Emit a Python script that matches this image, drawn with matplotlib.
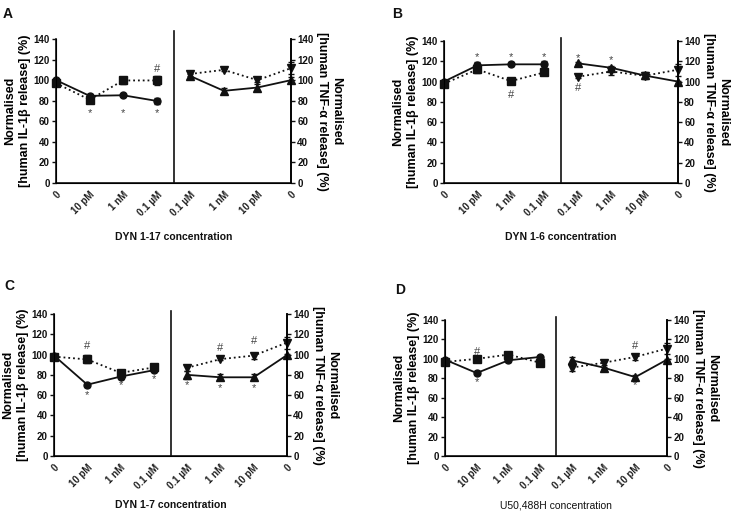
import matplotlib
matplotlib.use("Agg")
import matplotlib.pyplot as plt
import numpy as np

plt.rcParams['font.family'] = ['Liberation Sans', 'DejaVu Sans']

# ---------------- data ----------------
cats_left = ['0', '10 pM', '1 nM', '0.1 µM']
cats_right = ['0.1 µM', '1 nM', '10 pM', '0']

panel_letters = ['A', 'B', 'C', 'D']
xlabels = ['DYN 1-17 concentration', 'DYN 1-6 concentration',
           'DYN 1-7 concentration', 'U50,488H concentration']

# IL-1beta (left half): solid circles, dotted squares
il_solid = [[100, 84.7, 85.3, 79.8], [100, 116, 117, 117],
            [99, 70.3, 78.3, 84.6], [99.2, 85.4, 98.5, 102]]
il_solid_err = [[1.5, 2, 1, 3], [1, 3, 2, 3], [1, 2, 2, 2], [1, 2, 2, 1]]
il_dotted = [[97, 81, 99.7, 99.7], [98, 112, 100.5, 109],
             [98, 95.2, 82, 87.3], [96.8, 100, 104.4, 96]]
il_dotted_err = [[3, 3, 3, 4], [3, 4, 1, 1], [3, 4, 2, 2], [2, 1, 2, 1]]

# TNF-alpha (right half, order 0.1 uM, 1 nM, 10 pM, 0): solid up-triangles, dotted down-triangles
tnf_solid = [[104, 89.6, 92.8, 100], [118, 113.6, 106, 100],
             [80, 77.6, 77.6, 99.5], [98.5, 91, 81.2, 99.2]]
tnf_solid_err = [[2, 3, 3, 3], [1, 2, 3, 1], [4, 3, 3, 1], [3, 1, 2, 1]]
tnf_dotted = [[106, 110, 100, 111.7], [104.7, 110, 105.7, 111.7],
              [87, 95.5, 99, 111.8], [91, 96, 102, 110.6]]
tnf_dotted_err = [[2, 1, 2, 6], [1, 4, 2, 6], [3, 1, 3, 6], [3, 2, 3, 6]]

# significance marks: (symbol, category index 0-7, value)
marks = [
    [('*', 1, 68), ('*', 2, 68), ('*', 3, 68), ('#', 3, 111)],
    [('*', 1, 124), ('*', 2, 124), ('*', 3, 124), ('#', 2, 87),
     ('*', 4, 123), ('*', 5, 121), ('#', 4, 94)],
    [('*', 1, 60), ('*', 2, 70), ('*', 3, 76), ('#', 1, 108),
     ('*', 4, 70), ('*', 5, 67), ('*', 6, 67), ('#', 5, 106), ('#', 6, 113)],
    [('*', 1, 76), ('#', 1, 107), ('*', 6, 73), ('#', 6, 113)],
]

yticks = [0, 20, 40, 60, 80, 100, 120, 140]

# ---------------- layout ----------------
W, H = 733, 514
fig = plt.figure(figsize=(W / 100, H / 100), dpi=100)

# pixel boxes: left, right, top, bottom
boxes = [(56, 291, 39, 183), (444, 678, 41, 183),
         (54, 287, 314, 456), (445, 667, 320, 456)]
letter_pos = [(3, 14), (392, 14), (4, 286), (395, 290)]
xlabel_y = [237, 237, 505, 505]
xlabel_w = ['bold', 'bold', 'bold', 'normal']
div_top = [148, 143, 143, 143]

K = '#111111'
for i in range(4):
    l, r, t, b = boxes[i]
    ax = fig.add_axes([l / W, 1 - b / H, (r - l) / W, (b - t) / H])
    xl = np.arange(4)
    xr = np.arange(4, 8)
    ax.errorbar(xl, il_dotted[i], yerr=il_dotted_err[i], color=K, ls=':', lw=1.3,
                marker='s', ms=5.5, capsize=2, elinewidth=1.1, clip_on=False, zorder=3)
    ax.errorbar(xl, il_solid[i], yerr=il_solid_err[i], color=K, ls='-', lw=1.3,
                marker='o', ms=5, capsize=2, elinewidth=1.1, clip_on=False, zorder=4)
    ax.errorbar(xr, tnf_dotted[i], yerr=tnf_dotted_err[i], color=K, ls=':', lw=1.3,
                marker='v', ms=5.5, capsize=2, elinewidth=1.1, clip_on=False, zorder=3)
    ax.errorbar(xr, tnf_solid[i], yerr=tnf_solid_err[i], color=K, ls='-', lw=1.3,
                marker='^', ms=5.5, capsize=2, elinewidth=1.1, clip_on=False, zorder=4)
    ax.plot([3.5, 3.5], [0, div_top[i]], color=K, lw=1.2, clip_on=False)
    for sym, xi, yv in marks[i]:
        ax.text(xi, yv, sym, ha='center', va='center', fontsize=8, color='#444444')

    ax.set_xlim(0, 7)
    ax.set_ylim(0, 140)
    ax.set_yticks(yticks)
    ax.set_xticks(np.arange(8))
    ax.set_xticklabels(cats_left + cats_right, rotation=45, ha='right',
                       rotation_mode='anchor', fontsize=7, fontweight='bold', color='#222222')
    ax.tick_params(axis='x', length=0, pad=4.5)
    ax.tick_params(axis='y', length=3, width=1, labelsize=7, pad=1.5, colors=K)
    for lab in ax.get_yticklabels():
        lab.set_fontweight('bold')
    ax.spines['top'].set_visible(False)
    for s in ['left', 'right', 'bottom']:
        ax.spines[s].set_linewidth(1.2)
        ax.spines[s].set_color(K)
    ax.set_ylabel('Normalised\n[human IL-1β release] (%)', fontsize=9, fontweight='bold',
                  labelpad=2, linespacing=1.25)

    ax2 = ax.twinx()
    ax2.set_ylim(0, 140)
    ax2.set_yticks(yticks)
    ax2.tick_params(axis='y', length=3, width=1, labelsize=7, pad=1.5, colors=K)
    for lab in ax2.get_yticklabels():
        lab.set_fontweight('bold')
    ax2.spines['top'].set_visible(False)
    ax2.spines['right'].set_linewidth(1.2)
    ax2.set_ylabel('Normalised\n[human TNF-α release] (%)', fontsize=9, fontweight='bold',
                   rotation=270, va='bottom', labelpad=2, linespacing=1.25)

    fig.text(((l + r) / 2) / W, 1 - xlabel_y[i] / H, xlabels[i], ha='center', va='center',
             fontsize=7.5, fontweight=xlabel_w[i], color=K)
    fig.text(letter_pos[i][0] / W, 1 - letter_pos[i][1] / H, panel_letters[i],
             ha='left', va='center', fontsize=10, fontweight='bold', color=K)

fig.savefig('out.png', dpi=100)
